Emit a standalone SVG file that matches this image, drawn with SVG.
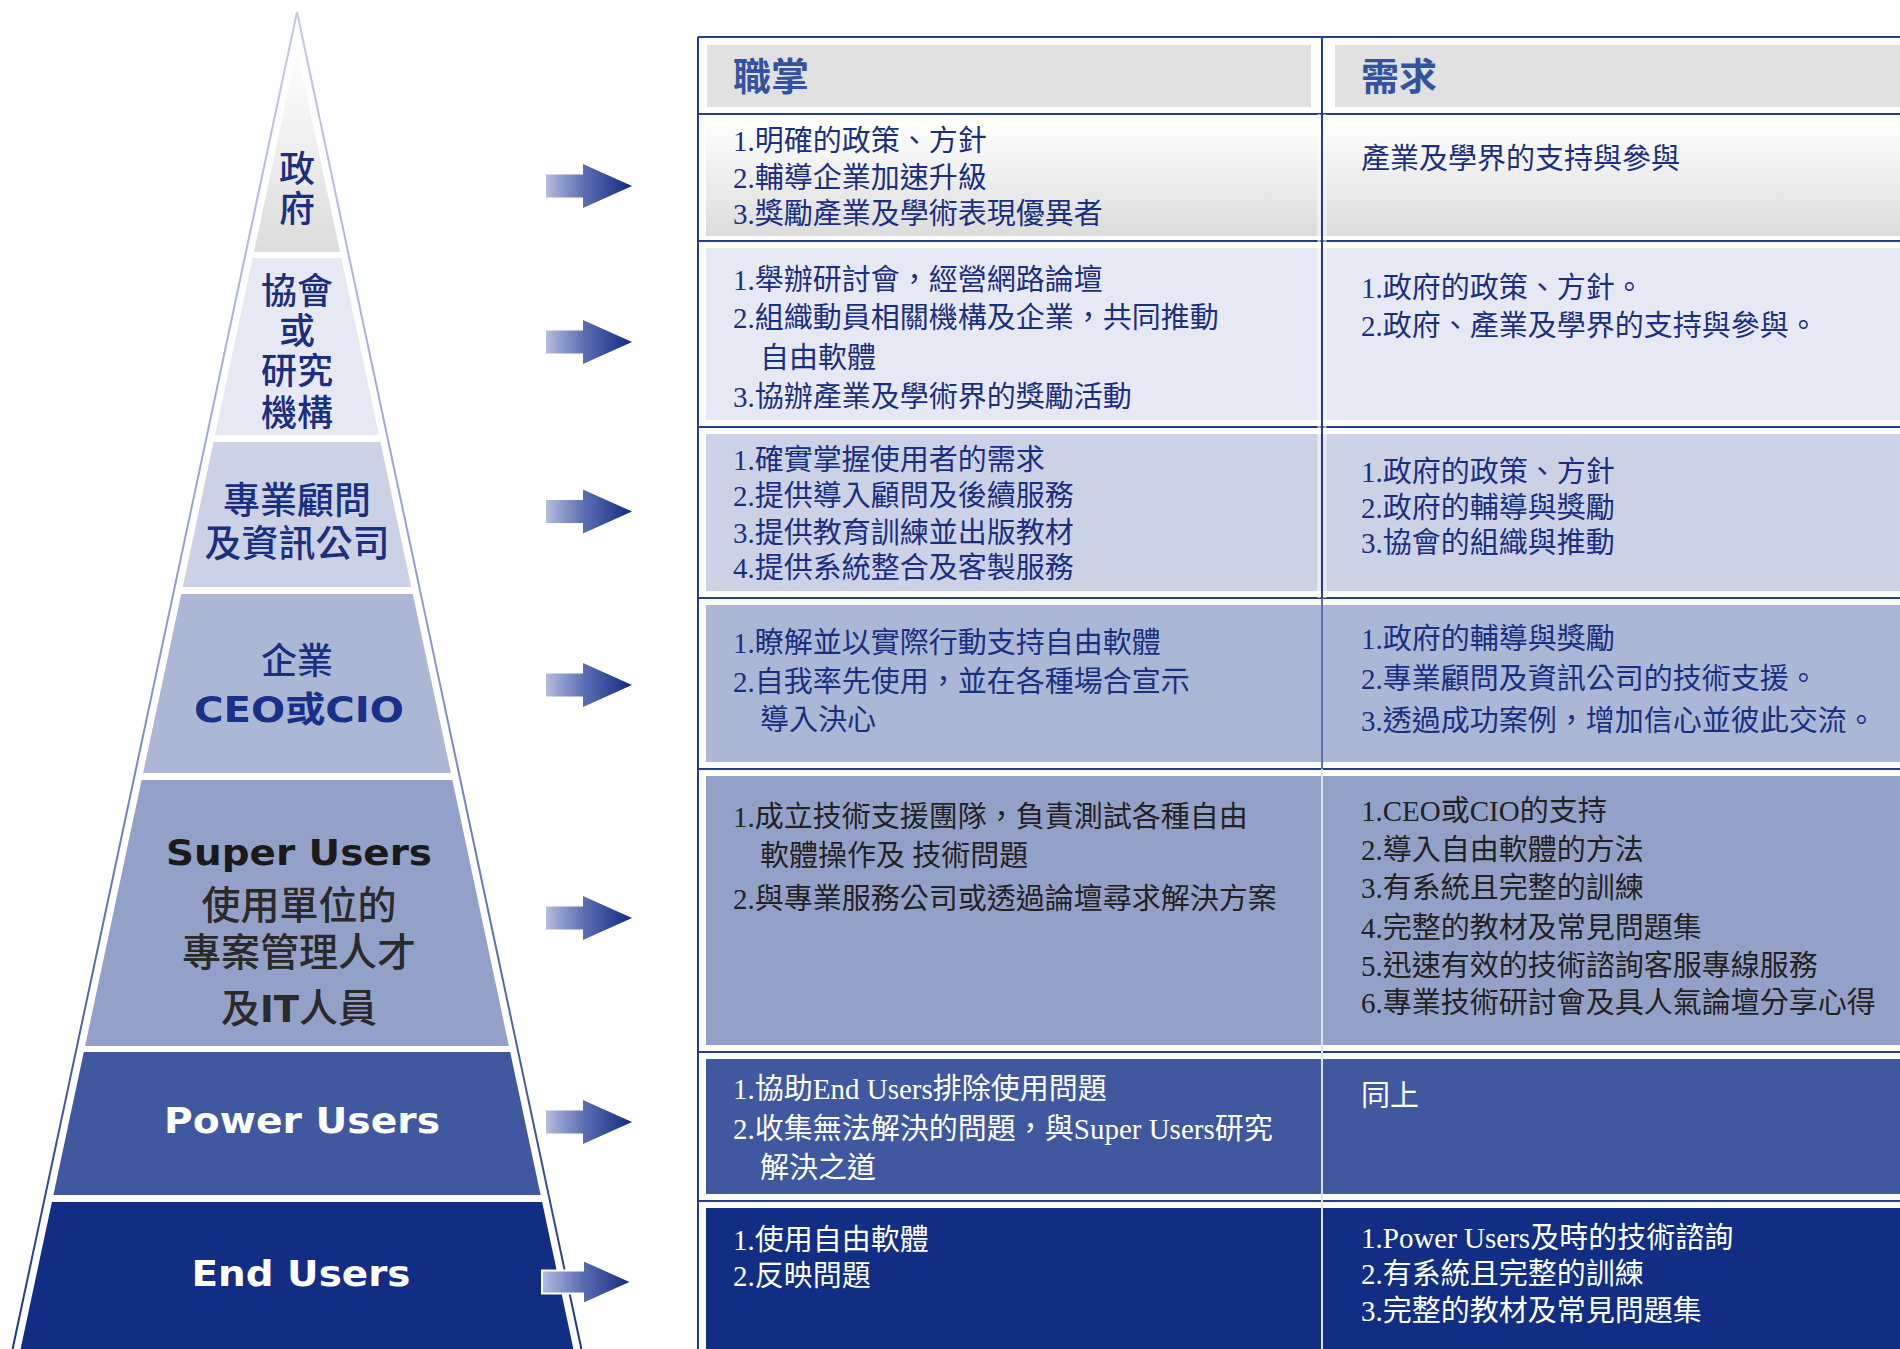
<svg xmlns="http://www.w3.org/2000/svg" width="1900" height="1349" viewBox="0 0 1900 1349">
<defs>
<linearGradient id="gGray" x1="0" y1="0" x2="0" y2="1">
<stop offset="0" stop-color="#ffffff"/><stop offset="0.35" stop-color="#f3f3f3"/><stop offset="1" stop-color="#dcdcdc"/>
</linearGradient>
<linearGradient id="gArrow" x1="0" y1="0" x2="1" y2="0">
<stop offset="0" stop-color="#b3bcdf"/><stop offset="0.45" stop-color="#5b6db2"/><stop offset="1" stop-color="#15297e"/>
</linearGradient>
<linearGradient id="gEdge" gradientUnits="userSpaceOnUse" x1="0" y1="12" x2="0" y2="1349">
<stop offset="0" stop-color="#c3cbe4"/><stop offset="0.5" stop-color="#8696c8"/><stop offset="1" stop-color="#1d3489"/>
</linearGradient>
<path id="arr" d="M0,-11.5 H37 V-22 L86,0 L37,22 V11.5 H0 Z"/>
</defs>
<style>
.tx{font-family:"Liberation Serif","Noto Sans CJK TC",serif;font-size:29px}
.navy{fill:#1b2f80}
.dark{fill:#222222}
.wht{fill:#ffffff}
.hd{font-family:"Noto Sans CJK TC","Noto Sans CJK SC",sans-serif;font-size:38px;font-weight:bold;fill:#3552a0}
.pl{font-family:"Noto Sans CJK TC","Noto Sans CJK SC",sans-serif;font-size:36px;font-weight:500;text-anchor:middle}
.pb{font-family:"DejaVu Sans","Noto Sans CJK TC",sans-serif;font-size:35px;font-weight:bold;text-anchor:middle}
.ln{stroke:#283c8c;stroke-width:2;fill:none}
</style>
<rect width="1900" height="1349" fill="#ffffff"/>

<!-- Pyramid -->
<g id="pyramid-outline">
<path d="M297,12 L12.6,1349 M297,12 L581.4,1349" stroke="url(#gEdge)" stroke-width="2" fill="none"/>
</g>
<g id="tier1">
<polygon points="297,49.6 340.05,252 253.95,252" fill="url(#gGray)"/>
<text class="pl navy" x="297 297" y="181.7 221.7">政府</text>
</g>
<g id="tier2">
<polygon points="252.68,258 341.32,258 378.97,435 215.03,435" fill="#e6e9f3"/>
<text class="pl navy" x="279 315 297 279 315 279 315" y="303.7 303.7 344 384 384 425.7 425.7">協會或研究機構</text>
</g>
<g id="tier3">
<polygon points="213.54,442 380.46,442 411.3,587 182.7,587" fill="#cbd2e5"/>
<text class="pl navy" style="font-size:37px" x="241.5 278.5 315.5 352.5 223 260 297 334 371" y="514 514 514 514 556.5 556.5 556.5 556.5 556.5">專業顧問及資訊公司</text>
</g>
<g id="tier4">
<polygon points="181.2,594 412.8,594 450.9,773 143.1,773" fill="#acb7d6"/>
<text class="pl navy" x="297" y="674">企業</text>
<text class="pb" x="299" y="722" fill="#1a3088" textLength="210" lengthAdjust="spacingAndGlyphs">CEO或CIO</text>
</g>
<g id="tier5">
<polygon points="141.6,780 452.4,780 508.9,1046 85.1,1046" fill="#93a1c9"/>
<text class="pb" x="299" y="865" fill="#1a1a1a" textLength="266" lengthAdjust="spacingAndGlyphs">Super Users</text>
<text class="pl" fill="#2a2a2a" style="font-size:39px" x="221 260 299 338 377 201.5 240.5 279.5 318.5 357.5 396.5" y="919 919 919 919 919 966 966 966 966 966 966">使用單位的專案管理人才</text>
<text class="pl" fill="#2a2a2a" style="font-size:39px" x="299" y="1022">及<tspan style="font-family:'DejaVu Sans',sans-serif;font-weight:bold;font-size:37px">IT</tspan>人員</text>
</g>
<g id="tier6">
<polygon points="83.8,1052 510.2,1052 540.6,1195 53.4,1195" fill="#40589f"/>
<text class="pb wht" x="302" y="1133" textLength="276" lengthAdjust="spacingAndGlyphs">Power Users</text>
</g>
<g id="tier7">
<polygon points="51.9,1202 542.1,1202 573.4,1349 20.6,1349" fill="#112e84"/>
<text class="pb wht" x="301" y="1286" textLength="219" lengthAdjust="spacingAndGlyphs">End Users</text>
</g>

<!-- Connectors (arrows) -->
<g id="connectors" fill="url(#gArrow)">
<use href="#arr" transform="translate(546,186)"/>
<use href="#arr" transform="translate(546,342)"/>
<use href="#arr" transform="translate(546,511.5)"/>
<use href="#arr" transform="translate(546,685)"/>
<use href="#arr" transform="translate(546,918)"/>
<use href="#arr" transform="translate(546,1122)"/>
<path d="M542,1270.5 H583 V1260 L632,1282 L583,1304 V1293.5 H542 Z" stroke="#ffffff" stroke-width="2"/>
</g>

<!-- Table -->
<g id="table-cells">
<rect x="707" y="45" width="604" height="62" fill="#e1e1e1"/>
<rect x="1335" y="45" width="565" height="62" fill="#e1e1e1"/>
<rect x="706" y="118" width="1194" height="118" fill="url(#gGray)"/>
<rect x="706" y="248" width="1194" height="172" fill="#e6e9f3"/>
<rect x="706" y="434" width="1194" height="157" fill="#cbd2e5"/>
<rect x="706" y="605" width="1194" height="157" fill="#acb7d6"/>
<rect x="706" y="776" width="1194" height="269" fill="#93a1c9"/>
<rect x="706" y="1059" width="1194" height="135" fill="#40589f"/>
<rect x="706" y="1208" width="1194" height="141" fill="#112e84"/>
</g>
<g id="table-lines">
<path class="ln" d="M698,37 V1349 M698,37 H1900 M698,114 H1900 M698,241 H1900 M698,427 H1900 M698,598 H1900 M698,769 H1900 M698,1052 H1900 M698,1201 H1900"/>
<path d="M1322,37 V598" stroke="#283c8c" stroke-width="2"/>
<path d="M1322,598 V769" stroke="#5e70ae" stroke-width="2"/>
<path d="M1322,769 V1349" stroke="#dfe3ee" stroke-width="2"/>
<path d="M1319,114 V598 M1325,114 V598" stroke="#ffffff" stroke-width="3" opacity="0.6"/>
</g>

<g id="header">
<text class="hd" x="733" y="90">職掌</text>
<text class="hd" x="1361" y="90">需求</text>
</g>

<g id="row-gov">
<text class="tx navy" x="733" y="151">1.明確的政策、方針</text>
<text class="tx navy" x="733" y="187.5">2.輔導企業加速升級</text>
<text class="tx navy" x="733" y="224">3.獎勵產業及學術表現優異者</text>
<text class="tx navy" x="1361" y="169">產業及學界的支持與參與</text>
</g>
<g id="row-assoc">
<text class="tx navy" x="733" y="290">1.舉辦研討會，經營網路論壇</text>
<text class="tx navy" x="733" y="328">2.組織動員相關機構及企業，共同推動</text>
<text class="tx navy" x="760" y="367.5">自由軟體</text>
<text class="tx navy" x="733" y="407">3.協辦產業及學術界的獎勵活動</text>
<text class="tx navy" x="1361" y="298">1.政府的政策、方針。</text>
<text class="tx navy" x="1361" y="336">2.政府、產業及學界的支持與參與。</text>
</g>
<g id="row-consult">
<text class="tx navy" x="733" y="470">1.確實掌握使用者的需求</text>
<text class="tx navy" x="733" y="505.5">2.提供導入顧問及後續服務</text>
<text class="tx navy" x="733" y="542.5">3.提供教育訓練並出版教材</text>
<text class="tx navy" x="733" y="577.5">4.提供系統整合及客製服務</text>
<text class="tx navy" x="1361" y="481.5">1.政府的政策、方針</text>
<text class="tx navy" x="1361" y="517.5">2.政府的輔導與獎勵</text>
<text class="tx navy" x="1361" y="553">3.協會的組織與推動</text>
</g>
<g id="row-ceo">
<text class="tx navy" x="733" y="653">1.瞭解並以實際行動支持自由軟體</text>
<text class="tx navy" x="733" y="692">2.自我率先使用，並在各種場合宣示</text>
<text class="tx navy" x="760" y="730">導入決心</text>
<text class="tx navy" x="1361" y="648.5">1.政府的輔導與獎勵</text>
<text class="tx navy" x="1361" y="688.5">2.專業顧問及資訊公司的技術支援。</text>
<text class="tx navy" x="1361" y="731">3.透過成功案例，增加信心並彼此交流。</text>
</g>
<g id="row-super">
<text class="tx dark" x="733" y="826.5">1.成立技術支援團隊，負責測試各種自由</text>
<text class="tx dark" x="760" y="865.5">軟體操作及 技術問題</text>
<text class="tx dark" x="733" y="908.5">2.與專業服務公司或透過論壇尋求解決方案</text>
<text class="tx dark" x="1361" y="820.5">1.CEO或CIO的支持</text>
<text class="tx dark" x="1361" y="860">2.導入自由軟體的方法</text>
<text class="tx dark" x="1361" y="898">3.有系統且完整的訓練</text>
<text class="tx dark" x="1361" y="937.5">4.完整的教材及常見問題集</text>
<text class="tx dark" x="1361" y="976">5.迅速有效的技術諮詢客服專線服務</text>
<text class="tx dark" x="1361" y="1013">6.專業技術研討會及具人氣論壇分享心得</text>
</g>
<g id="row-power">
<text class="tx wht" x="733" y="1099">1.協助End Users排除使用問題</text>
<text class="tx wht" x="733" y="1138.5">2.收集無法解決的問題，與Super Users研究</text>
<text class="tx wht" x="760" y="1177.5">解決之道</text>
<text class="tx wht" x="1361" y="1105.5">同上</text>
</g>
<g id="row-end">
<text class="tx wht" x="733" y="1250">1.使用自由軟體</text>
<text class="tx wht" x="733" y="1286">2.反映問題</text>
<text class="tx wht" x="1361" y="1247.5">1.Power Users及時的技術諮詢</text>
<text class="tx wht" x="1361" y="1283.5">2.有系統且完整的訓練</text>
<text class="tx wht" x="1361" y="1320.5">3.完整的教材及常見問題集</text>
</g>
</svg>
